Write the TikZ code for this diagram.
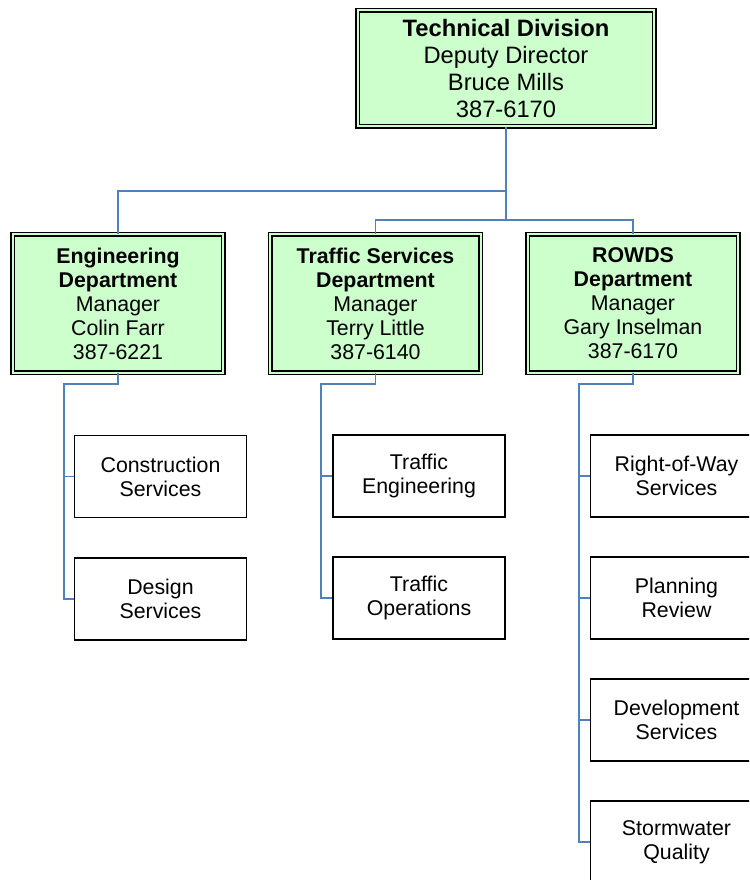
\documentclass[tikz,border=0pt]{standalone}
\usepackage{fontspec}
\setmainfont{Liberation Sans}
\definecolor{boxgreen}{RGB}{204,255,204}
\definecolor{linkblue}{RGB}{79,129,189}
\tikzset{every picture/.style={line width=0.75pt}}
\tikzset{
  headbox/.style={rectangle, draw=black, line width=1.1pt, fill=boxgreen,
    double=boxgreen, double distance=1.5pt, align=center, inner sep=0pt,
    font=\fontsize{17.8}{20.25}\selectfont},
  deptbox/.style={headbox, font=\fontsize{16}{18}\selectfont,
    minimum width=158pt, minimum height=103.5pt},
  unitbox/.style={rectangle, draw=black, line width=1pt, fill=white, align=center,
    inner sep=0pt, minimum width=129pt, minimum height=61.5pt,
    font=\fontsize{16}{18}\selectfont},
  link/.style={draw=linkblue, line width=1.2pt}
}

\begin{document}
\begin{tikzpicture}[x=0.75pt,y=0.75pt,yscale=-1,xscale=1]
\useasboundingbox (0,0) rectangle (749,880);
\clip (0,0) rectangle (749,880);

%Shape: division box
\node [headbox, minimum width=222.5pt, minimum height=87pt] (tech) at (506,68.5)
  {\textbf{Technical Division}\\Deputy Director\\Bruce Mills\\387-6170};

%Shape: department boxes
\node [deptbox] (eng) at (118,303.5)
  {\textbf{Engineering}\\\textbf{Department}\\Manager\\Colin Farr\\387-6221};
\node [deptbox] (traf) at (375.5,303.5)
  {\textbf{Traffic Services}\\\textbf{Department}\\Manager\\Terry Little\\387-6140};
\node [deptbox] (rowds) at (633,303.5)
  {\textbf{ROWDS}\\\textbf{Department}\\Manager\\Gary Inselman\\387-6170};

%Shape: engineering units
\node [unitbox] (cons) at (160.5,476.5) {Construction\\Services};
\node [unitbox] (des) at (160.5,599) {Design\\Services};
%Shape: traffic units
\node [unitbox] (teng) at (419,476) {Traffic\\Engineering};
\node [unitbox] (tops) at (419,598) {Traffic\\Operations};
%Shape: rowds units
\node [unitbox] (row) at (676.5,476) {Right-of-Way\\Services};
\node [unitbox] (plan) at (676.5,598) {Planning\\Review};
\node [unitbox] (dev) at (676.5,720) {Development\\Services};
\node [unitbox] (storm) at (676.5,842) {Stormwater\\Quality};

%Lines: division to departments
\draw [link] (tech.south) -- ++(0,64) -| (eng.north);
\draw [link] (tech.south) -- ++(0,93) -| (traf.north);
\draw [link] (tech.south) -- ++(0,93) -| (rowds.north);

%Lines: departments to units
\draw [link] (eng.south) -- ++(0,11) -- ++(-54,0) |- (cons.west);
\draw [link] (eng.south) -- ++(0,11) -- ++(-54,0) |- (des.west);
\draw [link] (traf.south) -- ++(0,11) -- ++(-54.5,0) |- (teng.west);
\draw [link] (traf.south) -- ++(0,11) -- ++(-54.5,0) |- (tops.west);
\draw [link] (rowds.south) -- ++(0,11) -- ++(-54,0) |- (row.west);
\draw [link] (rowds.south) -- ++(0,11) -- ++(-54,0) |- (plan.west);
\draw [link] (rowds.south) -- ++(0,11) -- ++(-54,0) |- (dev.west);
\draw [link] (rowds.south) -- ++(0,11) -- ++(-54,0) |- (storm.west);

\end{tikzpicture}
\end{document}
